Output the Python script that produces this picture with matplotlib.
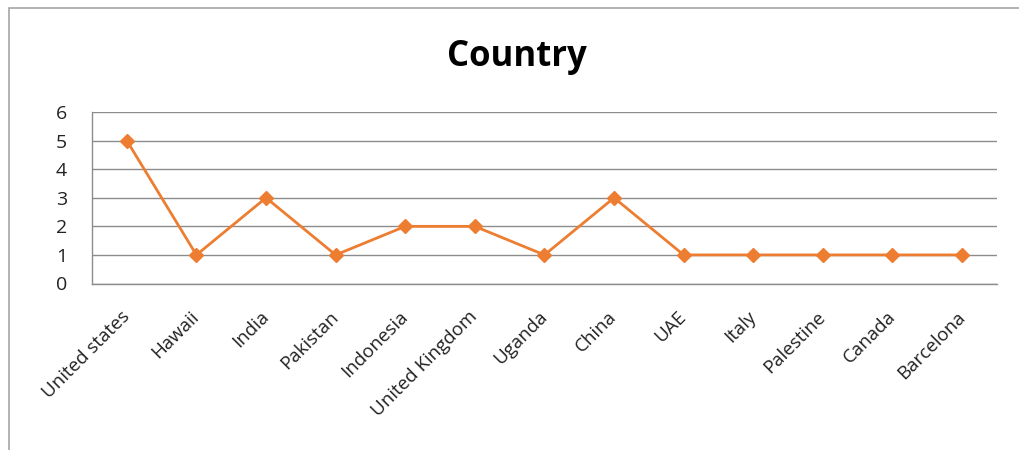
import matplotlib.pyplot as plt
from matplotlib.patches import Rectangle

countries = ['United states', 'Hawaii', 'India', 'Pakistan', 'Indonesia', 'United Kingdom',
             'Uganda', 'China', 'UAE', 'Italy', 'Palestine', 'Canada', 'Barcelona']
counts = [5, 1, 3, 1, 2, 2, 1, 3, 1, 1, 1, 1, 1]
y_ticks = [0, 1, 2, 3, 4, 5, 6]

plt.rcParams['font.family'] = ['Open Sans', 'DejaVu Sans']

fig = plt.figure(figsize=(10.19, 4.5), dpi=100)
ax = fig.add_axes([0.0903, 0.37, 0.888, 0.381])

# outer chart border (cropped on the right and bottom in the original)
fig.patches.append(Rectangle((9 / 1019, -0.1), 1.2, 1 - 8 / 450 + 0.1, transform=fig.transFigure,
                             fill=False, edgecolor='#a6a6a6', linewidth=1.2))

x = list(range(len(countries)))
ax.plot(x, counts, color='#ED7D31', linewidth=2, marker='D', markersize=7, zorder=3, clip_on=False)

ax.set_xlim(-0.5, len(countries) - 0.5)
ax.set_ylim(0, 6)
ax.set_yticks(y_ticks)
ax.yaxis.grid(True, color='#8c8c8c', linewidth=1)
ax.set_axisbelow(True)

ax.set_xticks(x)
ax.set_xticklabels(countries, rotation=45, ha='right', va='center', rotation_mode='anchor', fontsize=13.5, color='#222222')
ax.tick_params(axis='x', length=0, pad=22)
ax.tick_params(axis='y', length=0, pad=18, labelsize=14, labelcolor='#222222')

for side in ['top', 'right']:
    ax.spines[side].set_visible(False)
for side in ['left', 'bottom']:
    ax.spines[side].set_color('#8c8c8c')
    ax.spines[side].set_linewidth(1)

fig.text(0.507, 0.873, 'Country', ha='center', va='center', fontsize=25, fontweight='bold', color='black')

fig.savefig('out.png', dpi=100)
